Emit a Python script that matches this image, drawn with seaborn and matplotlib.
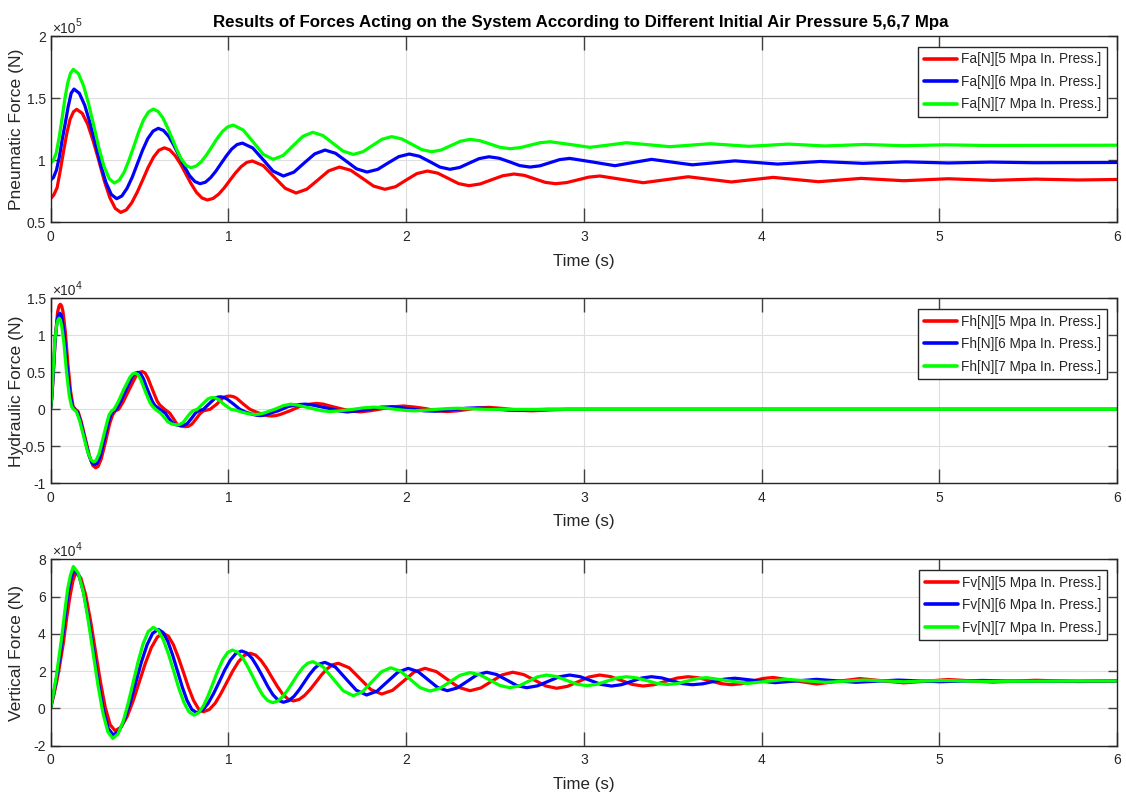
import numpy as np
import pandas as pd
import matplotlib
matplotlib.use("Agg")
import matplotlib.pyplot as plt
from matplotlib import font_manager as fm
from matplotlib.ticker import FuncFormatter
import seaborn as sns

# ---------------- data (time [s], value) ----------------
TIME_TICKS = [0, 1, 2, 3, 4, 5, 6]
PRESSURES = ["5", "6", "7"]
COLORS = ["#ff0000", "#0000ff", "#00ff00"]

# Pneumatic force, in units of 1e5 N
FA_5 = [(0.000, 0.69), (0.037, 0.78), (0.074, 1.08), (0.110, 1.33), (0.147, 1.41), (0.209, 1.29), (0.271, 1.00),
        (0.333, 0.70), (0.395, 0.58), (0.456, 0.656), (0.518, 0.84), (0.579, 1.024), (0.640, 1.10), (0.700, 1.039),
        (0.761, 0.89), (0.821, 0.741), (0.882, 0.68), (0.945, 0.726), (1.008, 0.837), (1.072, 0.948), (1.135, 0.994),
        (1.197, 0.956), (1.258, 0.865), (1.320, 0.774), (1.381, 0.736), (1.442, 0.767), (1.503, 0.84), (1.564, 0.914),
        (1.625, 0.945), (1.689, 0.919), (1.753, 0.856), (1.817, 0.792), (1.881, 0.766), (1.941, 0.787), (2.000, 0.84),
        (2.060, 0.892), (2.120, 0.913), (2.178, 0.896), (2.237, 0.854), (2.295, 0.812), (2.354, 0.795), (2.417, 0.809),
        (2.480, 0.842), (2.544, 0.875), (2.607, 0.889), (2.666, 0.878), (2.724, 0.85), (2.783, 0.822), (2.841, 0.811),
        (2.903, 0.82), (2.966, 0.842), (3.028, 0.864), (3.090, 0.873), (3.212, 0.846), (3.334, 0.819), (3.460, 0.843),
        (3.587, 0.867), (3.830, 0.825), (4.065, 0.862), (4.320, 0.827), (4.560, 0.854), (4.800, 0.835), (5.050, 0.851),
        (5.300, 0.838), (5.540, 0.848), (5.780, 0.841), (6.000, 0.845),
        (0.018, 0.72), (0.055, 0.92), (0.092, 1.22), (0.129, 1.39), (0.178, 1.378), (0.240, 1.154), (0.302, 0.836),
        (0.364, 0.612), (0.426, 0.600), (0.487, 0.741), (0.548, 0.939), (0.609, 1.08), (0.670, 1.084), (0.731, 0.97),
        (0.791, 0.81), (0.852, 0.696), (0.914, 0.692), (0.977, 0.777), (1.040, 0.897), (1.103, 0.982)]
FA_6 = [(0.000, 0.84), (0.033, 0.92), (0.066, 1.17), (0.099, 1.43), (0.132, 1.573), (0.192, 1.444), (0.252, 1.132),
        (0.312, 0.819), (0.372, 0.69), (0.430, 0.773), (0.489, 0.974), (0.547, 1.174), (0.606, 1.257), (0.665, 1.192),
        (0.724, 1.034), (0.782, 0.876), (0.841, 0.811), (0.900, 0.859), (0.960, 0.975), (1.019, 1.09), (1.079, 1.138),
        (1.137, 1.099), (1.195, 1.006), (1.252, 0.912), (1.310, 0.873), (1.369, 0.904), (1.427, 0.978), (1.486, 1.051),
        (1.544, 1.082), (1.603, 1.056), (1.662, 0.994), (1.721, 0.931), (1.780, 0.905), (1.840, 0.926), (1.899, 0.978),
        (1.959, 1.029), (2.018, 1.05), (2.075, 1.032), (2.133, 0.989), (2.190, 0.945), (2.247, 0.927), (2.302, 0.942),
        (2.357, 0.978), (2.411, 1.013), (2.466, 1.028), (2.524, 1.016), (2.582, 0.987), (2.639, 0.957), (2.697, 0.945),
        (2.753, 0.955), (2.809, 0.98), (2.864, 1.005), (2.920, 1.015), (3.048, 0.986), (3.175, 0.956), (3.278, 0.982),
        (3.381, 1.007), (3.610, 0.963), (3.850, 0.995), (4.090, 0.969), (4.330, 0.99), (4.570, 0.975), (4.810, 0.987),
        (5.050, 0.978), (5.290, 0.985), (5.530, 0.98), (6.000, 0.982),
        (0.016, 0.86), (0.050, 1.03), (0.083, 1.30), (0.116, 1.54), (0.162, 1.539), (0.222, 1.30), (0.282, 0.963),
        (0.342, 0.724), (0.401, 0.712), (0.460, 0.865), (0.518, 1.082), (0.577, 1.235), (0.635, 1.24), (0.694, 1.119),
        (0.753, 0.949), (0.812, 0.828), (0.871, 0.823), (0.930, 0.912), (0.990, 1.037), (1.049, 1.126)]
FA_7 = [(0.000, 0.975), (0.032, 1.06), (0.064, 1.33), (0.096, 1.62), (0.128, 1.732), (0.186, 1.598), (0.244, 1.274),
        (0.301, 0.95), (0.359, 0.816), (0.414, 0.903), (0.469, 1.114), (0.523, 1.325), (0.578, 1.412), (0.631, 1.343),
        (0.684, 1.176), (0.736, 1.009), (0.789, 0.94), (0.849, 0.99), (0.909, 1.112), (0.968, 1.233), (1.028, 1.283),
        (1.084, 1.243), (1.141, 1.145), (1.197, 1.047), (1.253, 1.007), (1.309, 1.039), (1.364, 1.116), (1.420, 1.193),
        (1.475, 1.225), (1.532, 1.199), (1.589, 1.136), (1.646, 1.073), (1.703, 1.047), (1.757, 1.068), (1.811, 1.119),
        (1.865, 1.169), (1.919, 1.19), (1.975, 1.172), (2.032, 1.129), (2.088, 1.086), (2.144, 1.068), (2.198, 1.083),
        (2.252, 1.118), (2.306, 1.153), (2.360, 1.168), (2.416, 1.157), (2.472, 1.131), (2.528, 1.104), (2.584, 1.093),
        (2.640, 1.101), (2.697, 1.121), (2.754, 1.141), (2.810, 1.149), (2.922, 1.127), (3.034, 1.104), (3.137, 1.122),
        (3.240, 1.141), (3.484, 1.109), (3.710, 1.133), (3.930, 1.112), (4.150, 1.13), (4.356, 1.115), (4.580, 1.127),
        (4.800, 1.117), (5.030, 1.124), (5.260, 1.119), (6.000, 1.121),
        (0.016, 1.00), (0.048, 1.18), (0.080, 1.49), (0.112, 1.70), (0.157, 1.697), (0.215, 1.449), (0.272, 1.099),
        (0.330, 0.851), (0.386, 0.839), (0.441, 1.00), (0.496, 1.228), (0.551, 1.389), (0.604, 1.394), (0.657, 1.266),
        (0.710, 1.086), (0.763, 0.958), (0.819, 0.953), (0.879, 1.046), (0.938, 1.177), (0.998, 1.27)]

# Hydraulic force, in units of 1e4 N
FH_5 = [(0.000, 0.0), (0.007, 0.15), (0.014, 0.40), (0.027, 0.98), (0.040, 1.32), (0.048, 1.40), (0.055, 1.42),
        (0.062, 1.40), (0.070, 1.32), (0.083, 1.05), (0.098, 0.60), (0.113, 0.24), (0.127, 0.04), (0.140, 0.0),
        (0.155, -0.03), (0.173, -0.17), (0.200, -0.44), (0.220, -0.64), (0.238, -0.76), (0.254, -0.79), (0.268, -0.77),
        (0.285, -0.67), (0.305, -0.48), (0.333, -0.19), (0.350, -0.07), (0.365, -0.02), (0.383, 0.0), (0.408, 0.10),
        (0.445, 0.28), (0.483, 0.46), (0.500, 0.50), (0.516, 0.51), (0.532, 0.49), (0.548, 0.42), (0.566, 0.31),
        (0.586, 0.19), (0.600, 0.11), (0.614, 0.06), (0.642, 0.0), (0.670, -0.05), (0.690, -0.12), (0.708, -0.19),
        (0.730, -0.225), (0.755, -0.234), (0.775, -0.23), (0.795, -0.20), (0.822, -0.12), (0.840, -0.06),
        (0.860, -0.02), (0.897, 0.0), (0.935, 0.07), (0.972, 0.16), (0.990, 0.175), (1.010, 0.18), (1.030, 0.17),
        (1.047, 0.15), (1.085, 0.07), (1.122, 0.0), (1.160, -0.04), (1.197, -0.07), (1.220, -0.085), (1.244, -0.09),
        (1.268, -0.085), (1.291, -0.07), (1.347, -0.02), (1.403, 0.04), (1.460, 0.07), (1.497, 0.08), (1.535, 0.07),
        (1.572, 0.045), (1.647, 0.0), (1.700, -0.025), (1.741, -0.035), (1.797, -0.02), (1.870, 0.01), (1.930, 0.035),
        (1.985, 0.045), (2.050, 0.03), (2.110, 0.01), (2.170, -0.02), (2.233, -0.03), (2.290, -0.02), (2.350, 0.0),
        (2.410, 0.02), (2.467, 0.027), (2.530, 0.015), (2.590, 0.0), (2.650, -0.015), (2.710, -0.02), (2.800, -0.01),
        (2.900, 0.0), (6.000, 0.0)]
FH_6 = [(0.000, 0.0), (0.0065, 0.15), (0.013, 0.40), (0.026, 0.95), (0.038, 1.22), (0.045, 1.28), (0.052, 1.30),
        (0.059, 1.28), (0.066, 1.21), (0.079, 0.97), (0.094, 0.55), (0.109, 0.21), (0.123, 0.04), (0.136, 0.0),
        (0.150, -0.03), (0.168, -0.16), (0.195, -0.42), (0.214, -0.61), (0.232, -0.72), (0.248, -0.75), (0.262, -0.73),
        (0.279, -0.64), (0.298, -0.45), (0.325, -0.18), (0.340, -0.07), (0.355, -0.02), (0.370, 0.0), (0.393, 0.10),
        (0.428, 0.28), (0.462, 0.45), (0.477, 0.49), (0.492, 0.50), (0.507, 0.48), (0.523, 0.41), (0.540, 0.30),
        (0.560, 0.18), (0.574, 0.10), (0.588, 0.05), (0.615, 0.0), (0.645, -0.05), (0.665, -0.12), (0.685, -0.18),
        (0.708, -0.21), (0.732, -0.22), (0.750, -0.215), (0.770, -0.19), (0.797, -0.11), (0.815, -0.05),
        (0.832, -0.02), (0.860, 0.0), (0.890, 0.07), (0.925, 0.15), (0.940, 0.165), (0.957, 0.17), (0.975, 0.16),
        (0.992, 0.14), (1.030, 0.07), (1.065, 0.0), (1.100, -0.04), (1.140, -0.07), (1.160, -0.08), (1.180, -0.085),
        (1.200, -0.08), (1.225, -0.06), (1.280, -0.02), (1.340, 0.04), (1.400, 0.065), (1.435, 0.07), (1.470, 0.06),
        (1.510, 0.04), (1.590, 0.0), (1.630, -0.025), (1.670, -0.035), (1.730, -0.02), (1.790, 0.0), (1.860, 0.03),
        (1.920, 0.035), (1.980, 0.02), (2.040, 0.0), (2.100, -0.02), (2.160, -0.025), (2.220, -0.015), (2.280, 0.0),
        (2.340, 0.015), (2.400, 0.02), (2.460, 0.012), (2.520, 0.0), (2.580, -0.012), (2.640, -0.015), (2.720, -0.005),
        (2.800, 0.0), (6.000, 0.0)]
FH_7 = [(0.000, 0.0), (0.006, 0.16), (0.012, 0.42), (0.024, 0.92), (0.035, 1.15), (0.042, 1.21), (0.048, 1.23),
        (0.055, 1.21), (0.062, 1.14), (0.075, 0.90), (0.090, 0.50), (0.105, 0.19), (0.118, 0.04), (0.130, 0.0),
        (0.145, -0.03), (0.163, -0.15), (0.190, -0.40), (0.208, -0.57), (0.227, -0.68), (0.243, -0.71), (0.256, -0.69),
        (0.273, -0.60), (0.292, -0.42), (0.318, -0.17), (0.330, -0.07), (0.345, -0.02), (0.357, 0.0), (0.380, 0.10),
        (0.414, 0.28), (0.448, 0.44), (0.463, 0.48), (0.477, 0.49), (0.492, 0.47), (0.508, 0.40), (0.525, 0.29),
        (0.545, 0.17), (0.558, 0.10), (0.570, 0.05), (0.590, 0.0), (0.618, -0.05), (0.640, -0.11), (0.660, -0.17),
        (0.685, -0.20), (0.708, -0.21), (0.724, -0.205), (0.745, -0.18), (0.770, -0.10), (0.787, -0.05),
        (0.800, -0.02), (0.825, 0.0), (0.855, 0.07), (0.885, 0.14), (0.900, 0.155), (0.915, 0.16), (0.932, 0.15),
        (0.950, 0.12), (0.985, 0.05), (1.015, 0.0), (1.040, -0.01), (1.080, -0.04), (1.115, -0.06), (1.150, -0.07),
        (1.175, -0.065), (1.200, -0.05), (1.260, 0.0), (1.310, 0.05), (1.350, 0.07), (1.385, 0.06), (1.420, 0.04),
        (1.490, 0.0), (1.530, -0.02), (1.570, -0.03), (1.630, -0.02), (1.700, 0.0), (1.760, 0.02), (1.820, 0.03),
        (1.880, 0.02), (1.940, 0.0), (2.000, -0.015), (2.050, -0.02), (2.110, -0.012), (2.170, 0.0), (2.230, 0.01),
        (2.290, 0.015), (2.370, 0.007), (2.450, 0.0), (6.000, 0.0)]

# Vertical force, in units of 1e4 N
FV_5 = [(0.000, 0.00), (0.036, 1.5), (0.072, 3.5), (0.109, 6.0), (0.143, 7.31), (0.198, 6.07), (0.253, 3.055),
        (0.308, 0.042), (0.363, -1.20), (0.431, -0.436), (0.499, 1.415), (0.567, 3.266), (0.635, 4.03), (0.691, 3.415),
        (0.748, 1.925), (0.804, 0.435), (0.860, -0.18), (0.926, 0.278), (0.991, 1.39), (1.057, 2.501), (1.122, 2.96),
        (1.183, 2.586), (1.244, 1.68), (1.305, 0.774), (1.366, 0.40), (1.429, 0.695), (1.493, 1.41), (1.556, 2.125),
        (1.619, 2.42), (1.680, 2.179), (1.741, 1.595), (1.802, 1.011), (1.863, 0.77), (1.924, 0.971), (1.985, 1.46),
        (2.045, 1.949), (2.106, 2.15), (2.170, 1.975), (2.233, 1.55), (2.297, 1.125), (2.360, 0.95), (2.420, 1.095),
        (2.480, 1.445), (2.540, 1.795), (2.600, 1.94), (2.662, 1.814), (2.724, 1.51), (2.785, 1.206), (2.847, 1.08),
        (2.908, 1.184), (2.969, 1.435), (3.029, 1.686), (3.090, 1.79), (3.151, 1.704), (3.212, 1.495), (3.273, 1.286),
        (3.334, 1.20), (3.397, 1.273), (3.460, 1.45), (3.524, 1.627), (3.587, 1.70), (3.648, 1.637), (3.709, 1.485),
        (3.769, 1.333), (3.830, 1.27), (3.889, 1.327), (3.948, 1.465), (4.006, 1.603), (4.065, 1.66), (4.310, 1.31),
        (4.553, 1.60), (4.800, 1.37), (5.050, 1.55), (5.300, 1.41), (5.540, 1.51), (5.780, 1.44), (6.000, 1.47),
        (0.018, 0.7), (0.054, 2.45), (0.090, 4.8), (0.126, 6.85), (0.1705, 6.987), (0.2255, 4.68), (0.2805, 1.43),
        (0.3355, -0.877), (0.397, -1.001), (0.465, 0.416), (0.533, 2.414), (0.601, 3.831), (0.663, 3.87),
        (0.719, 2.729), (0.776, 1.121), (0.832, -0.02), (0.893, -0.061), (0.958, 0.79), (1.024, 1.99), (1.089, 2.841),
        (1.153, 2.863), (1.214, 2.169), (1.275, 1.191), (1.336, 0.497), (1.398, 0.477), (1.461, 1.024),
        (1.524, 1.796), (1.587, 2.343)]
FV_6 = [(0.000, 0.00), (0.033, 1.6), (0.066, 3.7), (0.099, 6.2), (0.132, 7.47), (0.187, 6.17), (0.243, 3.02),
        (0.298, -0.13), (0.353, -1.43), (0.416, -0.602), (0.480, 1.405), (0.543, 3.412), (0.606, 4.24), (0.660, 3.587),
        (0.714, 2.005), (0.768, 0.423), (0.822, -0.23), (0.885, 0.253), (0.949, 1.425), (1.012, 2.597), (1.075, 3.08),
        (1.134, 2.679), (1.193, 1.705), (1.251, 0.732), (1.310, 0.33), (1.369, 0.642), (1.427, 1.40), (1.486, 2.158),
        (1.544, 2.47), (1.603, 2.214), (1.661, 1.595), (1.720, 0.976), (1.778, 0.72), (1.837, 0.929), (1.895, 1.435),
        (1.954, 1.941), (2.012, 2.15), (2.067, 1.975), (2.122, 1.55), (2.177, 1.125), (2.232, 0.95), (2.287, 1.095),
        (2.343, 1.445), (2.398, 1.795), (2.453, 1.94), (2.509, 1.819), (2.566, 1.525), (2.622, 1.231), (2.678, 1.11),
        (2.739, 1.209), (2.799, 1.45), (2.860, 1.691), (2.920, 1.79), (2.979, 1.704), (3.038, 1.495), (3.097, 1.286),
        (3.156, 1.20), (3.212, 1.273), (3.268, 1.45), (3.324, 1.627), (3.380, 1.70), (3.438, 1.637), (3.495, 1.485),
        (3.553, 1.333), (3.610, 1.27), (3.670, 1.321), (3.730, 1.445), (3.790, 1.569), (3.850, 1.62), (4.075, 1.38),
        (4.310, 1.56), (4.530, 1.40), (4.770, 1.52), (5.000, 1.43), (5.240, 1.50), (5.480, 1.45), (6.000, 1.47),
        (0.0165, 0.75), (0.050, 2.6), (0.083, 5.0), (0.116, 7.0), (0.1596, 7.132), (0.2149, 4.72), (0.2701, 1.32),
        (0.3254, -1.092), (0.385, -1.215), (0.448, 0.322), (0.511, 2.488), (0.574, 4.025), (0.633, 4.07),
        (0.687, 2.859), (0.741, 1.151), (0.795, -0.06), (0.854, -0.104), (0.917, 0.793), (0.980, 2.057),
        (1.043, 2.954), (1.104, 2.975), (1.163, 2.23), (1.222, 1.18), (1.281, 0.435), (1.339, 0.411), (1.398, 0.991),
        (1.456, 1.809), (1.515, 2.389)]
FV_7 = [(0.000, 0.00), (0.032, 1.7), (0.064, 3.9), (0.096, 6.4), (0.128, 7.61), (0.184, 6.264), (0.239, 3.0),
        (0.295, -0.264), (0.350, -1.61), (0.407, -0.74), (0.464, 1.37), (0.521, 3.48), (0.578, 4.35), (0.635, 3.662),
        (0.693, 1.995), (0.750, 0.328), (0.807, -0.36), (0.861, 0.15), (0.915, 1.385), (0.969, 2.62), (1.023, 3.13),
        (1.080, 2.718), (1.137, 1.72), (1.193, 0.722), (1.250, 0.31), (1.306, 0.631), (1.363, 1.41), (1.419, 2.189),
        (1.475, 2.51), (1.532, 2.243), (1.589, 1.595), (1.646, 0.947), (1.703, 0.68), (1.756, 0.899), (1.808, 1.43),
        (1.861, 1.961), (1.913, 2.18), (1.968, 1.998), (2.024, 1.555), (2.079, 1.112), (2.134, 0.93), (2.190, 1.075),
        (2.247, 1.425), (2.303, 1.775), (2.360, 1.92), (2.416, 1.802), (2.472, 1.515), (2.528, 1.228), (2.584, 1.11),
        (2.636, 1.209), (2.687, 1.45), (2.739, 1.691), (2.790, 1.79), (2.846, 1.707), (2.903, 1.505), (2.959, 1.303),
        (3.016, 1.22), (3.072, 1.29), (3.128, 1.46), (3.184, 1.63), (3.240, 1.70), (3.297, 1.639), (3.355, 1.49),
        (3.412, 1.341), (3.470, 1.28), (3.525, 1.334), (3.580, 1.465), (3.635, 1.596), (3.690, 1.65), (3.920, 1.34),
        (4.140, 1.56), (4.360, 1.40), (4.580, 1.52), (4.800, 1.43), (5.020, 1.50), (5.240, 1.45), (6.000, 1.47),
        (0.016, 0.8), (0.048, 2.8), (0.080, 5.2), (0.112, 7.15), (0.1558, 7.26), (0.2113, 4.761), (0.2668, 1.239),
        (0.3223, -1.259), (0.3785, -1.384), (0.4355, 0.232), (0.4925, 2.508), (0.5495, 4.124), (0.607, 4.171),
        (0.664, 2.895), (0.721, 1.095), (0.778, -0.181), (0.834, -0.227), (0.888, 0.718), (0.942, 2.052),
        (0.996, 2.997), (1.051, 3.023), (1.108, 2.259), (1.165, 1.181), (1.222, 0.417), (1.278, 0.394), (1.334, 0.99),
        (1.391, 1.83), (1.447, 2.426)]

PNEU_YTICKS = [0.5, 1, 1.5, 2]
HYD_YTICKS = [-1, -0.5, 0, 0.5, 1, 1.5]
VERT_YTICKS = [-2, 0, 2, 4, 6, 8]

TITLE = "Results of Forces Acting on the System According to Different Initial Air Pressure 5,6,7 Mpa"

# ---------------- style ----------------
sns.set_theme(style="white")
names = {f.name for f in fm.fontManager.ttflist}
NARROW = "Liberation Sans Narrow" if "Liberation Sans Narrow" in names else "Liberation Sans"
REGULAR = "Liberation Sans" if "Liberation Sans" in names else "DejaVu Sans"
plt.rcParams["font.family"] = [NARROW, "DejaVu Sans"]
plt.rcParams["axes.unicode_minus"] = False

DARK = "#262626"
fig = plt.figure(figsize=(11.26, 7.96), dpi=100)
positions = [[0.0449, 0.7207, 0.9472, 0.2340],
             [0.0449, 0.3928, 0.9472, 0.2324],
             [0.0449, 0.0632, 0.9472, 0.2342]]

panels = [
    ([FA_5, FA_6, FA_7], "Fa", 1e5, (0.5, 2.0), PNEU_YTICKS, "Pneumatic Force (N)", "5"),
    ([FH_5, FH_6, FH_7], "Fh", 1e4, (-1.0, 1.5), HYD_YTICKS, "Hydraulic Force (N)", "4"),
    ([FV_5, FV_6, FV_7], "Fv", 1e4, (-2.0, 8.0), VERT_YTICKS, "Vertical Force (N)", "4"),
]

for pos, (series, prefix, scale, ylim, yticks, ylabel, expo) in zip(positions, panels):
    ax = fig.add_axes(pos)
    labels = [f"{prefix}[N][{p} Mpa In. Press.]" for p in PRESSURES]
    frames = []
    for lab, pts in zip(labels, series):
        arr = np.array(sorted(pts), dtype=float)
        frames.append(pd.DataFrame({"t": arr[:, 0], "v": arr[:, 1] * scale, "series": lab}))
    df = pd.concat(frames, ignore_index=True)
    sns.lineplot(data=df, x="t", y="v", hue="series", hue_order=labels, palette=COLORS,
                 linewidth=2.3, estimator=None, sort=False, ax=ax)
    for ln in ax.get_lines():
        ln.set_solid_joinstyle("round")

    ax.set_xlim(0, 6)
    ax.set_ylim(ylim[0] * scale, ylim[1] * scale)
    ax.set_xticks(TIME_TICKS)
    ax.set_yticks([y * scale for y in yticks])
    ax.xaxis.set_major_formatter(FuncFormatter(lambda v, _: f"{v:g}"))
    ax.yaxis.set_major_formatter(FuncFormatter(lambda v, _, s=scale: f"{v / s:g}"))
    ax.grid(True, color="#dedede", linewidth=0.8)
    ax.set_axisbelow(True)
    for sp in ax.spines.values():
        sp.set_color(DARK)
        sp.set_linewidth(1.0)
    ax.tick_params(axis="x", direction="in", top=True, bottom=True, length=10, width=1.0,
                   color="#404040", labelsize=10, labelcolor=DARK, pad=5.5)
    ax.tick_params(axis="y", direction="in", left=True, right=True, length=6.5, width=1.0,
                   color="#404040", labelsize=10, labelcolor=DARK, pad=3.5)

    ax.set_xlabel("Time (s)", fontsize=12.2, color=DARK, va="center")
    ax.xaxis.set_label_coords(0.5, -0.209)
    ax.set_ylabel(ylabel, fontsize=12.6, color=DARK, va="center", family=[REGULAR, "DejaVu Sans"])
    ax.yaxis.set_label_coords(-0.0322, 0.5)

    ax.text(0.0014, 1.016, "\u00d710", transform=ax.transAxes, fontsize=10, color=DARK,
            ha="left", va="baseline")
    ax.text(0.0235, 1.052, expo, transform=ax.transAxes, fontsize=7.5, color=DARK,
            ha="left", va="baseline")

    handles, lbls = ax.get_legend_handles_labels()
    leg = ax.legend(handles, lbls, loc="upper right", bbox_to_anchor=(0.9906, 0.9426),
                    borderaxespad=0, frameon=True, fancybox=False, edgecolor=DARK,
                    fontsize=9.8, handlelength=2.45, handletextpad=0.3, labelspacing=0.62,
                    borderpad=0.42, framealpha=1)
    leg.get_frame().set_linewidth(1.0)
    for h in leg.get_lines():
        h.set_linewidth(2.6)
    for t in leg.get_texts():
        t.set_color(DARK)

fig.text(0.5156, 1 - 27.5 / 796, TITLE, ha="center", va="baseline", fontsize=12.2,
         fontweight="bold", color="black")

fig.savefig("out.png", dpi=100)
